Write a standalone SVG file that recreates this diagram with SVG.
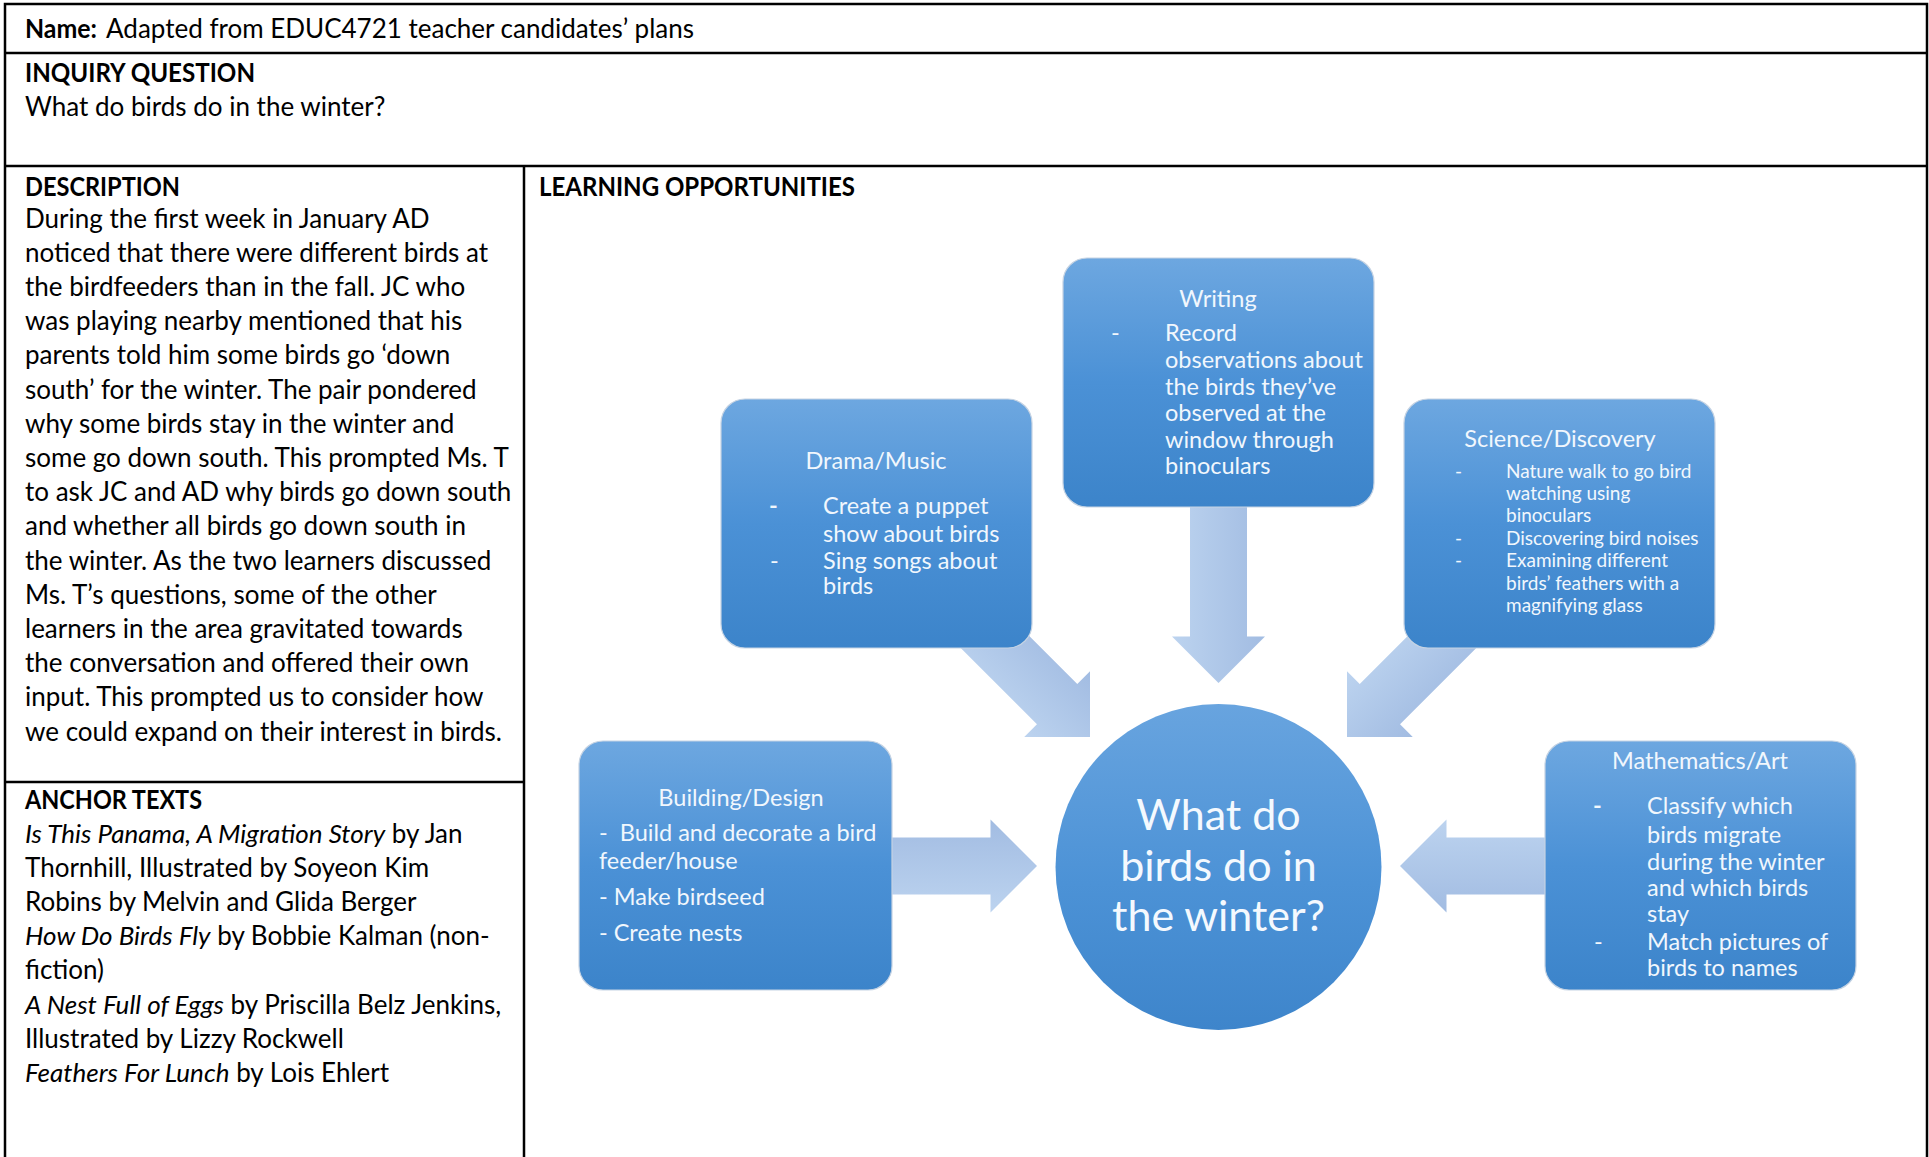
<svg xmlns="http://www.w3.org/2000/svg" width="1929" height="1157" viewBox="0 0 1929 1157">
<style>
  .rule { stroke: #000; stroke-width: 2.5; fill: none; }
  .t { font-family: Lato, "Liberation Sans", sans-serif; font-size: 26px; fill: #000; }
  .b { font-weight: bold; }
  .i { font-style: italic; }
  .box { fill: url(#boxGrad); stroke: #c5d3e3; stroke-width: 1.2; }
  .nt { font-family: Lato, "Liberation Sans", sans-serif; font-size: 23.5px; fill: #f1f7fd; }
  .ns { font-family: Lato, "Liberation Sans", sans-serif; font-size: 19px; fill: #f1f7fd; }
  .title { text-anchor: middle; }
  .ct { font-family: Lato, "Liberation Sans", sans-serif; font-size: 43px; fill: #f4f9fe; text-anchor: middle; }
</style>
<defs>
  <linearGradient id="boxGrad" x1="0" y1="0" x2="0" y2="1">
    <stop offset="0" stop-color="#6da7e0"/>
    <stop offset="0.5" stop-color="#4b91d6"/>
    <stop offset="1" stop-color="#3c84ca"/>
  </linearGradient>
  <linearGradient id="circGrad" x1="0" y1="0" x2="0" y2="1">
    <stop offset="0" stop-color="#68a4df"/>
    <stop offset="0.55" stop-color="#4c92d6"/>
    <stop offset="1" stop-color="#3e85cb"/>
  </linearGradient>
  <linearGradient id="arrowGrad" gradientUnits="userSpaceOnUse" x1="0" y1="46" x2="0" y2="-46">
    <stop offset="0" stop-color="#bcd3ef"/>
    <stop offset="1" stop-color="#a2bce2"/>
  </linearGradient>
  <path id="arrow" d="M -200 -28.5 L -46.5 -28.5 L -46.5 -46.5 L 0 0 L -46.5 46.5 L -46.5 28.5 L -200 28.5 Z" fill="url(#arrowGrad)"/>
</defs>
<rect width="1929" height="1157" fill="#fff"/>

<g id="table">
  <polyline class="rule" points="5,1157 5,4 1927,4 1927,1157"/>
  <line class="rule" x1="5" y1="53" x2="1927" y2="53"/>
  <line class="rule" x1="5" y1="166" x2="1927" y2="166"/>
  <line class="rule" x1="524" y1="166" x2="524" y2="1157"/>
  <line class="rule" x1="5" y1="782" x2="524" y2="782"/>
</g>

<g id="table-text">
  <text class="t" x="25" y="38"><tspan class="b" textLength="72" lengthAdjust="spacingAndGlyphs">Name:</tspan><tspan x="106">Adapted from EDUC4721 teacher candidates’ plans</tspan></text>
  <text class="t b" x="25" y="82" textLength="230" lengthAdjust="spacingAndGlyphs">INQUIRY QUESTION</text>
  <text class="t" x="25" y="115.5">What do birds do in the winter?</text>
  <text class="t b" x="25" y="195.5" textLength="155" lengthAdjust="spacingAndGlyphs">DESCRIPTION</text>
  <text class="t b" x="539" y="195.5" textLength="316" lengthAdjust="spacingAndGlyphs">LEARNING OPPORTUNITIES</text>
  <text class="t" x="25" y="227.5">During the first week in January AD</text>
  <text class="t" x="25" y="261.7">noticed that there were different birds at</text>
  <text class="t" x="25" y="295.9">the birdfeeders than in the fall. JC who</text>
  <text class="t" x="25" y="330.1">was playing nearby mentioned that his</text>
  <text class="t" x="25" y="364.3">parents told him some birds go ‘down</text>
  <text class="t" x="25" y="398.5">south’ for the winter. The pair pondered</text>
  <text class="t" x="25" y="432.7">why some birds stay in the winter and</text>
  <text class="t" x="25" y="466.9">some go down south. This prompted Ms. T</text>
  <text class="t" x="25" y="501.1">to ask JC and AD why birds go down south</text>
  <text class="t" x="25" y="535.3">and whether all birds go down south in</text>
  <text class="t" x="25" y="569.5">the winter. As the two learners discussed</text>
  <text class="t" x="25" y="603.7">Ms. T’s questions, some of the other</text>
  <text class="t" x="25" y="637.9">learners in the area gravitated towards</text>
  <text class="t" x="25" y="672.1">the conversation and offered their own</text>
  <text class="t" x="25" y="706.3">input. This prompted us to consider how</text>
  <text class="t" x="25" y="740.5">we could expand on their interest in birds.</text>
  <text class="t b" x="25" y="809" textLength="177" lengthAdjust="spacingAndGlyphs">ANCHOR TEXTS</text>
  <text class="t" x="25" y="842.5"><tspan class="i">Is This Panama, A Migration Story</tspan> by Jan</text>
  <text class="t" x="25" y="876.7">Thornhill, Illustrated by Soyeon Kim</text>
  <text class="t" x="25" y="910.9">Robins by Melvin and Glida Berger</text>
  <text class="t" x="25" y="945.1"><tspan class="i">How Do Birds Fly</tspan> by Bobbie Kalman (non-</text>
  <text class="t" x="25" y="979.3">fiction)</text>
  <text class="t" x="25" y="1013.5"><tspan class="i">A Nest Full of Eggs</tspan> by Priscilla Belz Jenkins,</text>
  <text class="t" x="25" y="1047.7">Illustrated by Lizzy Rockwell</text>
  <text class="t" x="25" y="1081.9"><tspan class="i">Feathers For Lunch</tspan> by Lois Ehlert</text>
</g>

<g id="connectors">
  <use href="#arrow" transform="translate(1218.5,683) rotate(90)"/>
  <use href="#arrow" transform="translate(1090,737) rotate(45)"/>
  <use href="#arrow" transform="translate(1347,737) rotate(135)"/>
  <use href="#arrow" transform="translate(1037,866)"/>
  <use href="#arrow" transform="translate(1400,866) rotate(180)"/>
</g>

<g id="node-center">
  <circle cx="1218.5" cy="867" r="163" fill="url(#circGrad)"/>
  <text class="ct" x="1218.5" y="830">What do</text>
  <text class="ct" x="1218.5" y="881">birds do in</text>
  <text class="ct" x="1218.5" y="931">the winter?</text>
</g>

<g id="node-writing">
  <rect class="box" x="1063" y="258" width="311" height="249" rx="24"/>
  <text class="nt title" x="1218" y="307">Writing</text>
  <text class="nt" x="1111" y="341">-</text>
  <text class="nt" x="1165" y="341">Record</text>
  <text class="nt" x="1165" y="368">observations about</text>
  <text class="nt" x="1165" y="395">the birds they’ve</text>
  <text class="nt" x="1165" y="421">observed at the</text>
  <text class="nt" x="1165" y="448">window through</text>
  <text class="nt" x="1165" y="474">binoculars</text>
</g>

<g id="node-drama">
  <rect class="box" x="721" y="399" width="311" height="249" rx="24"/>
  <text class="nt title" x="876" y="469">Drama/Music</text>
  <text class="nt b" x="769" y="514">-</text>
  <text class="nt" x="823" y="514">Create a puppet</text>
  <text class="nt" x="823" y="542">show about birds</text>
  <text class="nt" x="770" y="569">-</text>
  <text class="nt" x="823" y="569">Sing songs about</text>
  <text class="nt" x="823" y="594">birds</text>
</g>

<g id="node-science">
  <rect class="box" x="1404" y="399" width="311" height="249" rx="24"/>
  <text class="nt title" x="1560" y="447">Science/Discovery</text>
  <text class="ns" x="1455" y="478">-</text>
  <text class="ns" x="1506" y="478">Nature walk to go bird</text>
  <text class="ns" x="1506" y="500">watching using</text>
  <text class="ns" x="1506" y="522">binoculars</text>
  <text class="ns" x="1455" y="545">-</text>
  <text class="ns" x="1506" y="545">Discovering bird noises</text>
  <text class="ns" x="1455" y="567">-</text>
  <text class="ns" x="1506" y="567">Examining different</text>
  <text class="ns" x="1506" y="590">birds’ feathers with a</text>
  <text class="ns" x="1506" y="612">magnifying glass</text>
</g>

<g id="node-building">
  <rect class="box" x="579" y="741" width="313" height="249" rx="24"/>
  <text class="nt title" x="741" y="806">Building/Design</text>
  <text class="nt" x="599" y="841">-&#160; Build and decorate a bird</text>
  <text class="nt" x="599" y="869">feeder/house</text>
  <text class="nt" x="599" y="905">- Make birdseed</text>
  <text class="nt" x="599" y="941">- Create nests</text>
</g>

<g id="node-math">
  <rect class="box" x="1545" y="741" width="311" height="249" rx="24"/>
  <text class="nt title" x="1700" y="769">Mathematics/Art</text>
  <text class="nt b" x="1593" y="814">-</text>
  <text class="nt" x="1647" y="814">Classify which</text>
  <text class="nt" x="1647" y="843">birds migrate</text>
  <text class="nt" x="1647" y="870">during the winter</text>
  <text class="nt" x="1647" y="896">and which birds</text>
  <text class="nt" x="1647" y="922">stay</text>
  <text class="nt" x="1594" y="950">-</text>
  <text class="nt" x="1647" y="950">Match pictures of</text>
  <text class="nt" x="1647" y="976">birds to names</text>
</g>
</svg>
